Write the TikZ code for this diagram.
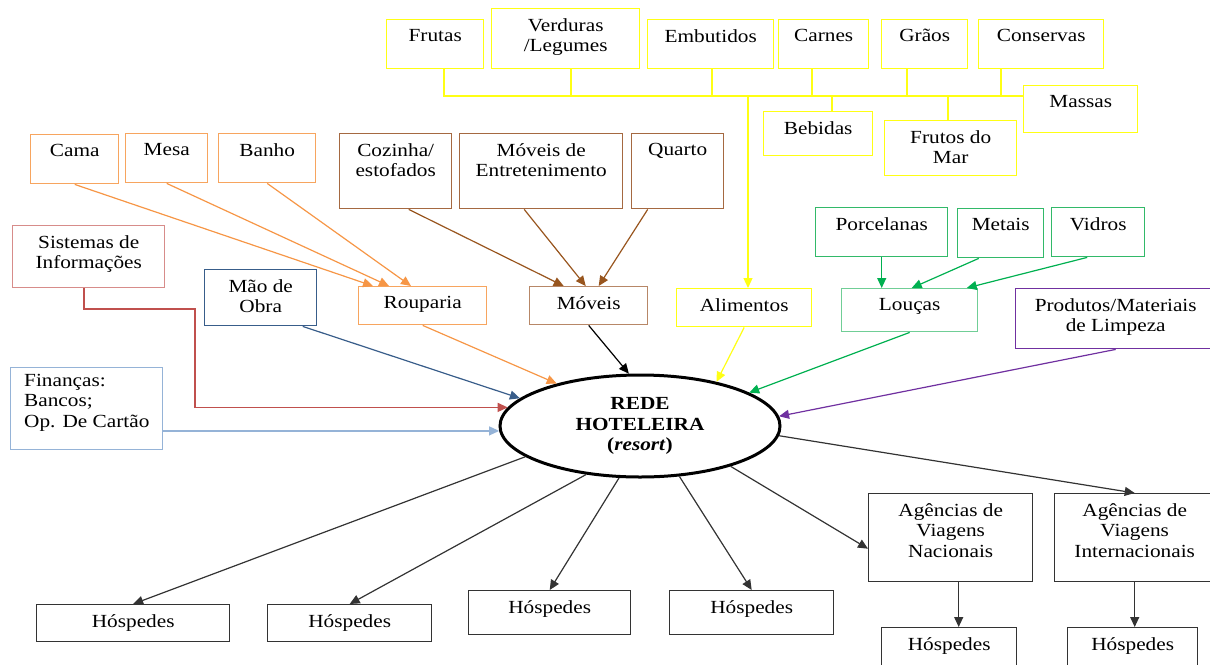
\documentclass[tikz,border=0pt]{standalone}
\usepackage{fontspec}
\setmainfont{Liberation Serif}[FakeStretch=1.15]
\usetikzlibrary{arrows.meta,shapes.geometric}

\definecolor{ylw}{RGB}{255,255,20}
\definecolor{orng}{RGB}{247,165,95}
\definecolor{orngar}{RGB}{246,150,70}
\definecolor{brwn}{RGB}{165,105,65}
\definecolor{brwnar}{RGB}{152,85,30}
\definecolor{redbox}{RGB}{215,140,138}
\definecolor{redar}{RGB}{192,80,77}
\definecolor{dblue}{RGB}{56,93,138}
\definecolor{lblue}{RGB}{149,179,215}
\definecolor{grnbox}{RGB}{50,185,105}
\definecolor{grnar}{RGB}{0,176,80}
\definecolor{prpl}{RGB}{112,48,160}

\newcommand\tfont{\fontsize{18.5}{20.5}\selectfont}

\tikzset{
  box/.style={draw, anchor=north west, inner sep=0pt, line width=1.4pt},
  sz/.style 2 args={minimum width=#1, minimum height=#2},
  lbl/.style={anchor=north, align=center, inner xsep=0pt, inner ysep=10pt, font=\tfont},
  tb/.style={label={[lbl]north:{#1}}},
  ar/.style={->, line width=1.2pt},
  yline/.style={draw=ylw, line width=1.4pt},
}

\begin{document}
\begin{tikzpicture}[x=1pt, y=-1pt, >={Triangle[length=10pt,width=9pt]}]
  \useasboundingbox (0,0) rectangle (1210,664);

  % alimentos
  \node[box, draw=ylw, sz={97}{49}, tb=Frutas] (fru) at (386,19) {};
  \node[box, draw=ylw, sz={148}{60}, tb={Verduras\\/Legumes}] (ver) at (491,8) {};
  \node[box, draw=ylw, sz={126}{49}, tb=Embutidos] (emb) at (647,19) {};
  \node[box, draw=ylw, sz={90}{49}, tb=Carnes] (car) at (778,19) {};
  \node[box, draw=ylw, sz={86}{49}, tb=Grãos] (gra) at (881,19) {};
  \node[box, draw=ylw, sz={125}{49}, tb=Conservas] (con) at (978,19) {};
  \node[box, draw=ylw, sz={109}{44}, tb=Bebidas] (beb) at (763,111) {};
  \node[box, draw=ylw, sz={132}{55}, tb={Frutos do\\Mar}] (fdm) at (884,120) {};
  \node[box, draw=ylw, sz={114}{47}, tb=Massas] (mas) at (1023,85) {};
  \node[box, draw=ylw, sz={135}{38}, tb=Alimentos] (ali) at (676,288) {};

  \coordinate (bus) at (748,96);
  \draw[yline] (fru.south -| 444,0) |- (mas.west |- bus);
  \foreach \n/\x in {ver/571, emb/712, car/812, gra/907, con/1001}
    \draw[yline] (\n.south -| \x,0) -- (\x,96);
  \foreach \n/\x in {beb/832, fdm/948}
    \draw[yline] (\n.north -| \x,0) -- (\x,96);
  \draw[ar, draw=ylw] (bus) -- (ali.north -| bus);

  % rouparia
  \node[box, draw=orng, sz={88}{49}, tb=Cama] (cama) at (30,134) {};
  \node[box, draw=orng, sz={82}{49}, tb=Mesa] (mesa) at (125,133) {};
  \node[box, draw=orng, sz={97}{49}, tb=Banho] (banho) at (218,133) {};
  \node[box, draw=orng, sz={128}{38}, tb=Rouparia] (rou) at (358,286) {};
  \draw[ar, draw=orngar] (cama.south) -- ([xshift=15pt]rou.north west);
  \draw[ar, draw=orngar] (mesa.south) -- ([xshift=31pt]rou.north west);
  \draw[ar, draw=orngar] (banho.south) -- ([xshift=53pt]rou.north west);

  % moveis
  \node[box, draw=brwn, sz={112}{75}, tb={Cozinha/\\estofados}] (coz) at (339,133) {};
  \node[box, draw=brwn, sz={163}{75}, tb={Móveis de\\Entretenimento}] (ent) at (459,133) {};
  \node[box, draw=brwn, sz={92}{75}, tb=Quarto] (qua) at (631,133) {};
  \node[box, draw=brwn!80, sz={118}{38}, tb=Móveis] (mov) at (529,286) {};
  \draw[ar, draw=brwnar] ([xshift=13pt]coz.south) -- ([xshift=-25pt]mov.north);
  \draw[ar, draw=brwnar] ([xshift=-17pt]ent.south) -- ([xshift=-3pt]mov.north);
  \draw[ar, draw=brwnar] ([xshift=-30pt]qua.south) -- ([xshift=10pt]mov.north);

  % loucas
  \node[box, draw=grnbox, sz={132}{49}, tb=Porcelanas] (por) at (815,207) {};
  \node[box, draw=grnbox, sz={86}{49}, tb=Metais] (met) at (957,208) {};
  \node[box, draw=grnbox, sz={93}{49}, tb=Vidros] (vid) at (1051,207) {};
  \node[box, draw=grnbox!70, sz={136}{43}, tb=Louças] (lou) at (841,288) {};
  \draw[ar, draw=grnar] (por.south) -- (por.south |- lou.north);
  \draw[ar, draw=grnar] ([xshift=-22pt]met.south) -- ([xshift=2pt]lou.north);
  \draw[ar, draw=grnar] ([xshift=-11pt]vid.south) -- ([xshift=57pt]lou.north);

  \node[box, draw=redbox, sz={152}{62}, tb={Sistemas de\\Informações}] (sis) at (12,225) {};
  \node[box, draw=dblue, sz={112}{56}, tb={Mão de\\Obra}] (mao) at (204,269) {};
  \node[box, draw=lblue, sz={152}{82},
    label={[lbl, anchor=north west, align=left, inner xsep=14pt, inner ysep=7pt]north west:{Finanças:\\Bancos;\\Op. De Cartão}}] (fin) at (10,367) {};
  \node[box, draw=prpl, sz={200}{60}, tb={Produtos/Materiais\\de Limpeza}] (pro) at (1015,288) {};

  \node[draw, ellipse, line width=3pt, sz={280}{102}, inner sep=0pt, align=center,
    font=\tfont\bfseries] (rede) at (640,426) {REDE\\HOTELEIRA\\(\textit{resort})};

  % entradas
  \coordinate (sisbend) at (195,309);
  \draw[ar, draw=redar] (sis.south -| 84,0) |- (sisbend) |- (rede.172);
  \draw[ar, draw=lblue] (fin.east |- rede.182) -- (rede.182);
  \draw[ar, draw=dblue] ([xshift=42pt]mao.south) -- (rede.167);
  \draw[ar, draw=orngar] (rou.south) -- (rede.153);
  \draw[ar] (mov.south) -- (rede.102);
  \draw[ar, draw=ylw] (ali.south) -- (rede.30);
  \draw[ar, draw=grnar] (lou.south) -- (rede.17);
  \draw[ar, draw=prpl] (pro.south) -- (rede.4);

  % saidas
  \node[box, draw=black!80, sz={193}{37}, tb=Hóspedes] (h1) at (36,604) {};
  \node[box, draw=black!80, sz={164}{37}, tb=Hóspedes] (h2) at (267,604) {};
  \node[box, draw=black!80, sz={162}{44}, tb=Hóspedes] (h3) at (468,590) {};
  \node[box, draw=black!80, sz={164}{44}, tb=Hóspedes] (h4) at (669,590) {};
  \node[box, draw=black!80, sz={164}{88}, tb={Agências de\\Viagens\\Nacionais}] (agn) at (868,493) {};
  \node[box, draw=black!80, sz={160}{88}, tb={Agências de\\Viagens\\Internacionais}] (agi) at (1054,493) {};
  \node[box, draw=black!80, sz={135}{40}, tb=Hóspedes] (h5) at (881,627) {};
  \node[box, draw=black!80, sz={130}{40}, tb=Hóspedes] (h6) at (1067,627) {};

  \draw[ar, draw=black!80] (rede.195) -- (h1.north);
  \draw[ar, draw=black!80] (rede.222) -- (h2.north);
  \draw[ar, draw=black!80] (rede.248) -- (h3.north);
  \draw[ar, draw=black!80] (rede.308) -- (h4.north);
  \draw[ar, draw=black!80] (rede.336) -- ([yshift=-11pt]agn.west);
  \draw[ar, draw=black!80] (rede.356) -- (agi.north);
  \draw[ar, draw=black!80] ([xshift=8pt]agn.south) -- ([xshift=8pt]agn.south |- h5.north);
  \draw[ar, draw=black!80] (agi.south) -- (agi.south |- h6.north);
\end{tikzpicture}
\end{document}
